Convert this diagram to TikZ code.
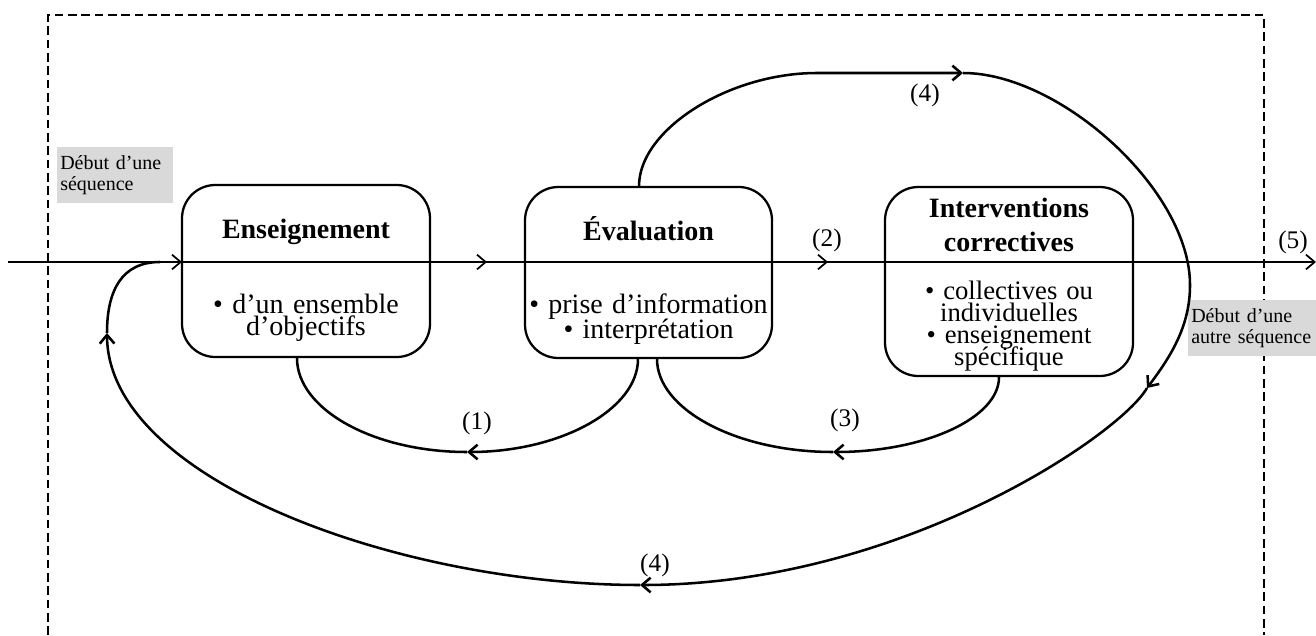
\documentclass[tikz,border=0pt]{standalone}
\usepackage{fontspec}
\setmainfont{Liberation Serif}
\usetikzlibrary{arrows.meta,decorations.markings}

\tikzset{
  >={Straight Barb[length=6.5pt,width=11pt]},
  stage/.style={draw, line width=1.7pt, rounded corners=25pt, minimum width=186pt, inner sep=0pt},
  title/.style={font={\fontsize{21}{26}\selectfont\bfseries\lineskiplimit=-50pt}, anchor=base, align=center, text width=182pt, inner sep=0pt},
  body/.style={font={\fontsize{21}{#1}\selectfont\lineskiplimit=-50pt}, anchor=base, align=center, text width=182pt, inner sep=0pt},
  body/.default=16.5pt,
  tightbody/.style={font={\fontsize{20}{16.5}\selectfont\lineskiplimit=-50pt}, anchor=base, align=center, text width=182pt, inner sep=0pt},
  flow/.style={line width=1.9pt},
  axis/.style={line width=1.3pt},
  frame/.style={line width=0.9pt, dash pattern=on 6.5pt off 3.5pt},
  num/.style={font=\fontsize{19}{22}\selectfont, inner sep=0pt},
  debut/.style={fill=black!15, font={\fontsize{15}{15.75}\selectfont\lineskiplimit=-50pt}, align=left, anchor=north west, inner xsep=2.25pt, inner ysep=0pt, minimum height=42pt},
}

\begin{document}
\begin{tikzpicture}[x=0.75pt, y=-0.75pt]
\useasboundingbox (0,0) rectangle (1316,635);

% dashed frame, open at the bottom
\draw[frame] (48,635) -- (48,15) -- (1264,15) -- (1264,635);

% sequence start / end tags
\node[debut, text width=82.5pt] (deb1) at (57,147) {Début d’une\\séquence};
\node[debut, text width=91.5pt] (deb2) at (1188,300) {Début d’une\\autre séquence};

% the three stages
\node[stage, minimum height=129pt] (ens) at (306,271) {};
\node[stage, minimum width=185.25pt, minimum height=128.25pt] (eva) at (648.5,272.5) {};
\node[stage, minimum height=141.75pt] (int) at (1009,281.5) {};

\node[title] (ensT) at (306,238) {Enseignement};
\node[body] (ensB) at (306,313) {\textbullet{} d’un ensemble\\d’objectifs};

\node[title] (evaT) at (648.5,240) {Évaluation};
\node[body=18.75pt] (evaB) at (648.5,313) {\textbullet{} prise d’information\\\textbullet{} interprétation};

\node[title] (intT) at (1009,217) {Interventions\\correctives};
\node[tightbody] (intB) at (1009,299) {\textbullet{} collectives ou\\individuelles\\\textbullet{} enseignement\\spécifique};

% main time line
\coordinate (start) at (8,262);
\coordinate (end) at (1316,262);
\draw[axis, ->, postaction={decorate}, decoration={markings,
    mark=at position 130.5pt with {\arrow{>}},
    mark=at position 359.25pt with {\arrow{>}},
    mark=at position 615pt with {\arrow{>}}}] (start) -- (end);

% loop (1): evaluation back to teaching
\coordinate (c1) at (467,452);
\draw[flow, ->] ([xshift=-7.9pt]eva.south) .. controls (638,409) and (561,452) .. (c1);
\draw[flow] (c1) .. controls (373,452) and (297,409) .. ([xshift=-6.75pt]ens.south);

% loop (3): corrective interventions back to evaluation
\coordinate (c3) at (833,452);
\draw[flow, ->] ([xshift=-7.5pt]int.south) .. controls (999,418) and (925,452) .. (c3);
\draw[flow] (c3) .. controls (736,452) and (657,409) .. ([xshift=6.4pt]eva.south);

% loop (4): around everything back to the start
\coordinate (r1) at (963,73);
\coordinate (r2) at (1147,388);
\coordinate (r3) at (640,585);
\coordinate (r4) at (107,333);
\coordinate (join) at (160,262);
\draw[flow, ->] ([xshift=-7.1pt]eva.north) .. controls (639,130) and (728,73) .. (817,73) -- (r1);
\draw[flow, ->] (r1) .. controls (1060,73) and (1190,190) .. (1190,285)
                     .. controls (1190,325) and (1172,355) .. (r2);
\draw[flow, ->] (r2) .. controls (1120,435) and (900,585) .. (r3);
\draw[flow, ->] (r3) .. controls (400,585) and (108,480) .. (r4);
\draw[flow] (r4) .. controls (107,290) and (122,262) .. (join);

% path labels
\node[num] (l4a) at (925,95) {(4)};
\node[num] (l2) at (827,240) {(2)};
\node[num] (l5) at (1293,242) {(5)};
\node[num] (l1) at (477,423) {(1)};
\node[num] (l3) at (845,420) {(3)};
\node[num] (l4b) at (655,565) {(4)};
\end{tikzpicture}
\end{document}
